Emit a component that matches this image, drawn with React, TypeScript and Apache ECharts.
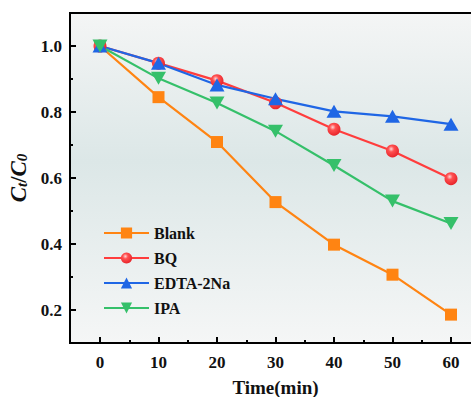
import React, { useEffect, useRef } from "react";
import * as echarts from "echarts";

const times = [0, 10, 20, 30, 40, 50, 60];
const blank = [1.0, 0.845, 0.709, 0.527, 0.398, 0.307, 0.186];
const bq = [1.0, 0.948, 0.895, 0.828, 0.748, 0.682, 0.598];
const edta = [1.0, 0.948, 0.882, 0.840, 0.802, 0.787, 0.763];
const ipa = [1.0, 0.902, 0.827, 0.742, 0.638, 0.530, 0.462];

const seriesNames = ["Blank", "BQ", "EDTA-2Na", "IPA"];
const xLabelTicks = [0, 10, 20, 30, 40, 50, 60];

const font = "'Liberation Serif', 'Times New Roman', serif";

export default function App() {
  const ref = useRef<HTMLDivElement>(null);
  useEffect(() => {
    if (!ref.current) return;
    const chart = echarts.init(ref.current, undefined, { renderer: "svg" });
    const pair = (arr: number[]) => arr.map((v, i) => [times[i], v]);
    const lineW = 2.2;
    chart.setOption({
      animation: false,
      backgroundColor: "#ffffff",
      textStyle: { fontFamily: font },
      graphic: [
        {
          type: "rect",
          z: -10,
          silent: true,
          shape: { x: 70, y: 13, width: 410, height: 330 },
          style: {
            fill: {
              type: "linear",
              x: 0,
              y: 0,
              x2: 0,
              y2: 1,
              colorStops: [
                { offset: 0, color: "#f4f5f5" },
                { offset: 0.45, color: "#dce7e7" },
                { offset: 1, color: "#f5f6f6" },
              ],
            },
          },
        },
        {
          type: "rect",
          z: 100,
          silent: true,
          shape: { x: 70, y: 13, width: 410, height: 330 },
          style: { fill: "none", stroke: "#000", lineWidth: 2 },
        },
      ],
      grid: {
        left: 100,
        top: 46,
        width: 351,
        height: 264,
        containLabel: false,
        outerBoundsMode: "none",
      },
      legend: {
        orient: "vertical",
        left: 98,
        top: 220,
        itemWidth: 45,
        itemHeight: 14,
        itemGap: 9,
        data: seriesNames,
        textStyle: { fontFamily: font, fontWeight: "bold", fontSize: 16, color: "#111" },
      },
      xAxis: {
        type: "value",
        min: 0,
        max: 60,
        interval: 10,
        offset: 33,
        axisLine: { show: false, onZero: false },
        splitLine: { show: false },
        axisTick: { show: true, inside: true, length: 6, lineStyle: { color: "#000", width: 2 } },
        minorTick: { show: true, splitNumber: 2, length: 3, lineStyle: { color: "#000", width: 2 } },
        axisLabel: {
          margin: 11,
          color: "#111",
          fontFamily: font,
          fontWeight: "bold",
          fontSize: 17,
          formatter: (v: number) => (xLabelTicks.includes(v) ? String(v) : ""),
        },
        name: "Time(min)",
        nameLocation: "middle",
        nameGap: 35,
        nameTextStyle: { fontFamily: font, fontWeight: "bold", fontSize: 19, color: "#111" },
      },
      yAxis: {
        type: "value",
        min: 0.2,
        max: 1.0,
        interval: 0.2,
        offset: 30,
        axisLine: { show: false, onZero: false },
        splitLine: { show: false },
        axisTick: { show: true, inside: true, length: 6, lineStyle: { color: "#000", width: 2 } },
        minorTick: { show: true, splitNumber: 2, length: 3, lineStyle: { color: "#000", width: 2 } },
        axisLabel: {
          margin: 8,
          color: "#111",
          fontFamily: font,
          fontWeight: "bold",
          fontSize: 17,
          formatter: (v: number) => v.toFixed(1),
        },
        name: "{i|C}{s|t}{n|/}{i|C}{s|0}",
        nameLocation: "middle",
        nameRotate: 90,
        nameGap: 29,
        nameTextStyle: {
          color: "#111",
          rich: {
            i: { fontFamily: font, fontStyle: "italic", fontWeight: "bold", fontSize: 23, color: "#111", verticalAlign: "bottom", lineHeight: 24 },
            n: { fontFamily: font, fontWeight: "bold", fontSize: 23, color: "#111", verticalAlign: "bottom", lineHeight: 24 },
            s: { fontFamily: font, fontStyle: "italic", fontWeight: "bold", fontSize: 15, color: "#111", verticalAlign: "bottom", lineHeight: 19 },
          },
        },
      },
      series: [
        {
          name: "Blank",
          type: "line",
          clip: false,
          data: pair(blank),
          symbol: "rect",
          symbolSize: 12,
          lineStyle: { color: "#ff8412", width: lineW },
          itemStyle: { color: "#ff8412" },
        },
        {
          name: "BQ",
          type: "line",
          clip: false,
          data: pair(bq),
          symbol: "circle",
          symbolSize: 13,
          lineStyle: { color: "#ff3d3d", width: lineW },
          itemStyle: {
            color: {
              type: "radial",
              x: 0.4,
              y: 0.35,
              r: 0.65,
              colorStops: [
                { offset: 0, color: "#ffd6d6" },
                { offset: 0.35, color: "#ff5050" },
                { offset: 1, color: "#e8252b" },
              ],
            },
          },
        },
        {
          name: "EDTA-2Na",
          type: "line",
          clip: false,
          data: pair(edta),
          symbol: "triangle",
          symbolSize: [15, 13],
          lineStyle: { color: "#1f66e5", width: lineW },
          itemStyle: { color: "#1f66e5" },
        },
        {
          name: "IPA",
          type: "line",
          clip: false,
          data: pair(ipa),
          symbol: "triangle",
          symbolRotate: 180,
          symbolSize: [15, 13],
          lineStyle: { color: "#35c06a", width: lineW },
          itemStyle: { color: "#35c06a" },
        },
      ],
    });
    return () => chart.dispose();
  }, []);
  return (
    <div
      ref={ref}
      style={{ position: "fixed", left: 0, top: 0, width: 471, height: 397 }}
    />
  );
}
